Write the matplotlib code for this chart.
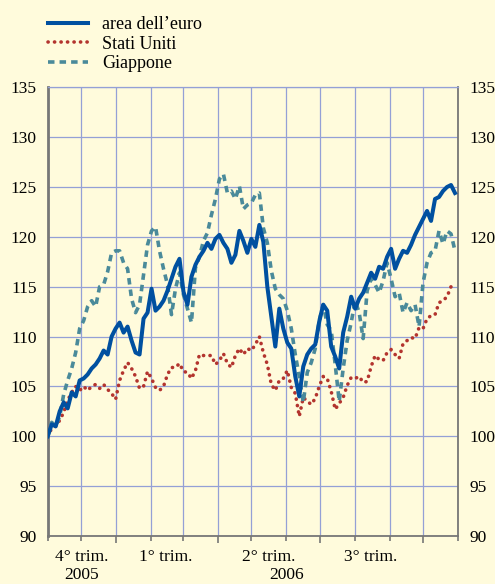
import numpy as np
import pandas as pd
import matplotlib
matplotlib.use("Agg")
import matplotlib.pyplot as plt
import matplotlib.transforms as mtransforms

plt.rcParams['font.family'] = ['Liberation Serif', 'DejaVu Serif']

# index numbers, start of period = 100
euro = [100.0, 101.2, 101.0, 102.5, 103.4, 102.8, 104.4, 104.0, 105.6, 105.8,
        106.2, 106.8, 107.2, 107.8, 108.6, 108.2, 110.0, 110.8, 111.4, 110.4,
        111.0, 109.6, 108.4, 108.2, 111.8, 112.4, 114.8, 112.6, 113.0, 113.6,
        114.6, 115.8, 117.0, 117.8, 114.5, 113.2, 116.0, 117.2, 118.0, 118.6,
        119.4, 118.8, 119.8, 120.2, 119.4, 118.8, 117.4, 118.2, 120.6, 119.6,
        118.4, 119.8, 119.0, 121.2, 119.5, 115.0, 112.0, 109.0, 112.8, 110.8,
        109.4, 108.8, 106.0, 104.0, 107.0, 108.2, 108.8, 109.2, 111.5, 113.2,
        112.6, 109.0, 108.0, 106.8, 110.4, 112.0, 114.0, 112.8, 113.8, 114.4,
        115.4, 116.4, 115.8, 117.0, 116.8, 118.0, 118.8, 116.8, 117.8, 118.6,
        118.4, 119.2, 120.2, 121.0, 121.8, 122.6, 121.6, 123.8, 124.0, 124.6,
        125.0, 125.2, 124.4]

usa = [100.0, 100.8, 101.0, 101.6, 102.4, 103.6, 104.4, 105.0, 104.6, 105.0,
       104.6, 105.0, 105.2, 104.8, 105.2, 104.7, 104.3, 103.7, 105.6, 106.6,
       107.4, 106.8, 106.0, 104.8, 105.0, 106.5, 105.8, 104.9, 104.6, 105.0,
       106.2, 106.9, 106.9, 107.3, 106.5, 106.4, 105.8, 106.6, 108.2, 108.1,
       108.1, 108.1, 107.2, 107.6, 108.3, 107.3, 106.9, 108.1, 108.8, 108.2,
       108.8, 108.6, 109.2, 110.0, 108.4, 107.2, 105.2, 104.6, 105.6, 105.8,
       106.6, 104.9, 104.3, 102.0, 103.9, 103.5, 103.2, 103.8, 105.0, 106.0,
       105.8, 104.5, 102.7, 103.3, 103.9, 105.1, 105.9, 105.8, 106.0, 105.4,
       105.5, 107.0, 108.1, 107.7, 107.6, 108.4, 108.7, 108.2, 107.8, 109.3,
       109.6, 109.9, 109.8, 110.9, 110.8, 111.8, 112.1, 112.2, 113.4, 113.6,
       114.0, 115.0, 114.7]

japan = [100.0, 101.4, 101.0, 102.0, 104.2, 105.6, 106.8, 108.4, 110.8, 111.6,
         113.0, 113.6, 113.0, 115.0, 115.2, 116.5, 118.4, 118.6, 118.6, 117.4,
         116.8, 113.8, 112.4, 113.2, 116.2, 119.2, 120.6, 121.0, 118.6, 116.8,
         115.2, 112.2, 114.8, 116.4, 114.2, 112.8, 111.4, 116.9, 118.0, 119.6,
         120.4, 122.2, 123.8, 125.8, 126.3, 124.4, 124.6, 123.8, 125.1, 122.8,
         123.2, 123.4, 124.2, 124.4, 120.9, 119.4, 116.6, 114.8, 114.2, 113.8,
         112.6, 110.8, 108.2, 106.0, 103.4, 106.4, 107.4, 108.8, 111.6, 113.2,
         111.2, 110.6, 107.2, 103.5, 106.8, 109.6, 111.4, 113.6, 112.4, 109.8,
         114.6, 115.8, 115.2, 114.4, 115.6, 117.4, 115.8, 114.0, 114.4, 112.4,
         113.4, 112.6, 113.2, 111.0, 115.4, 117.4, 118.4, 118.6, 120.6, 119.3,
         120.6, 120.3, 118.6]

dates = pd.date_range("2005-11-01", "2006-10-29", periods=len(euro))

quarter_labels = ["4° trim.", "1° trim.", "2° trim.", "3° trim."]
quarter_centers = pd.to_datetime(["2005-12-01", "2006-02-14", "2006-05-16", "2006-08-15"])
year_labels = ["2005", "2006"]
year_centers = pd.to_datetime(["2005-12-01", "2006-06-01"])

bg = "#fffbdc"
grid_col = "#94a0d6"
axis_col = "#777777"

fig = plt.figure(figsize=(4.95, 5.84), dpi=100, facecolor=bg)
ax = fig.add_axes([0.0964, 0.0822, 0.8296, 0.7683], facecolor=bg)

ax.plot(dates, euro, color="#0050a0", lw=2.9, label="area dell’euro", zorder=4)
ax.plot(dates, usa, color="#b3342e", lw=2.6, linestyle=(0, (0.05, 1.75)),
        dash_capstyle="round", solid_capstyle="round", label="Stati Uniti", zorder=3)
ax.plot(dates, japan, color="#4a8a9a", lw=2.6, linestyle=(0, (1.8, 1.4)),
        label="Giappone", zorder=3)

ax.set_xlim(pd.Timestamp("2005-11-01"), pd.Timestamp("2006-11-01"))
ax.set_ylim(90, 135)
ax.set_yticks(np.arange(90, 136, 5))

months = pd.date_range("2005-11-01", "2006-11-01", freq="MS")
quarters = pd.to_datetime(["2006-01-01", "2006-04-01", "2006-07-01", "2006-10-01"])
ax.set_xticks(quarters)
ax.set_xticks(months, minor=True)
ax.xaxis.set_major_formatter(plt.NullFormatter())
ax.xaxis.set_minor_formatter(plt.NullFormatter())

ax.grid(True, which="both", axis="x", color=grid_col, lw=0.9)
ax.grid(True, which="major", axis="y", color=grid_col, lw=0.9)
ax.set_axisbelow(True)

ax.tick_params(axis="x", which="major", direction="out", length=5, width=1.2, color=axis_col)
ax.tick_params(axis="x", which="minor", direction="out", length=3.5, width=1.2, color=axis_col)
ax.tick_params(axis="y", length=0, labelsize=12.5, pad=8, right=True, labelright=True)

ax.spines["top"].set_color(grid_col)
ax.spines["top"].set_linewidth(0.9)
ax.spines["left"].set_color(axis_col)
ax.spines["left"].set_linewidth(2)
ax.spines["right"].set_color(axis_col)
ax.spines["right"].set_linewidth(1.3)
ax.spines["bottom"].set_color(axis_col)
ax.spines["bottom"].set_linewidth(1.3)

trans = mtransforms.blended_transform_factory(ax.transData, fig.transFigure)
for lab, c in zip(quarter_labels, quarter_centers):
    ax.text(c, 1 - 557 / 584, lab, transform=trans, ha="center", va="center", fontsize=12.5)
for lab, c in zip(year_labels, year_centers):
    ax.text(c, 1 - 575 / 584, lab, transform=trans, ha="center", va="center", fontsize=12.5)

fig.legend(loc="upper left", bbox_to_anchor=(48 / 495, 1 - 16 / 584), frameon=False,
           fontsize=13, handlelength=2.2, handletextpad=0.8, labelspacing=0.15,
           borderpad=0, borderaxespad=0)

fig.savefig("out.png", dpi=100, facecolor=bg)
